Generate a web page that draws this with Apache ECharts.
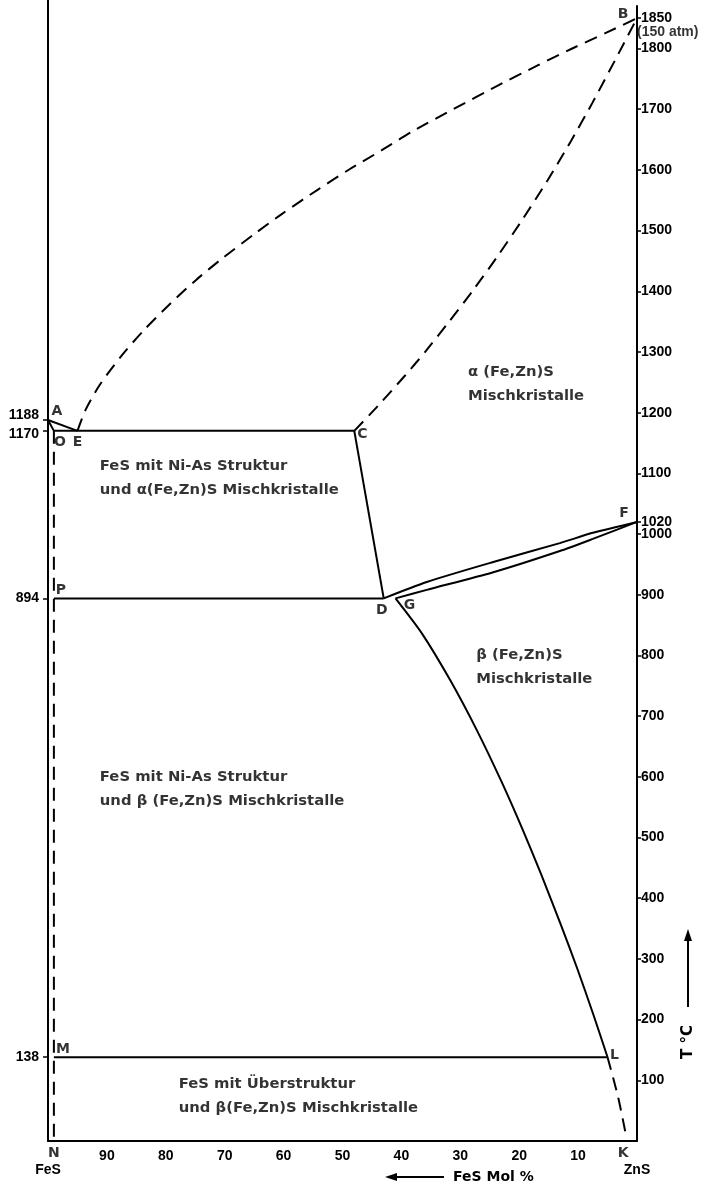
<!DOCTYPE html>
<html><head><meta charset="utf-8">
<script src="https://cdn.jsdelivr.net/npm/echarts@6/dist/echarts.min.js"></script>
<style>html,body{margin:0;padding:0;background:#fff}#c{width:702px;height:1187px}</style>
</head><body><div id="c"></div>
<script>
// ---- data (x = FeS Mol %, y = T °C) ----
const solidusAO   = [[100,1188],[99,1170]];
const liquidusAE  = [[100,1188],[95,1170]];
const eutecticOC  = [[99,1170],[48,1170]];
const boundaryCD  = [[48,1170],[43,894]];
const eutectoidPD = [[99,894],[43,894]];
const upperDF     = [[43,894],[35.7,921],[24.4,954],[13.1,985],[7.5,1002],[0,1020]];
const lowerGF     = [[41,894],[35.7,908],[24.4,937],[13.1,972],[7.5,992],[0,1020]];
const solvusGL    = [[41,894],[36.5,836],[31.7,759],[27.2,677],[23,592],[19.5,515],[16.3,440],[13,358],[10.1,283],[7.4,208],[5,138]];
const lineML      = [[99,138],[5,138]];
const dashedEB    = [[95,1170],[93.6,1205],[91.2,1246],[87.5,1294],[83.8,1335],[79.1,1381],[74.7,1420],[70.3,1455],[65,1494],[60.2,1528],[54.1,1568],[48.8,1601],[43.4,1632],[38,1664],[31.2,1700],[23.8,1738],[16.7,1773],[11,1800],[5.2,1826],[0,1850]];
const dashedCB    = [[48,1170],[44,1211],[39.3,1262],[35.9,1301],[31.9,1350],[27.8,1402],[23.8,1456],[19.8,1513],[15.3,1581],[11.3,1646],[7.6,1710],[3.6,1783],[0,1850]];
const dashedON    = [[99,1170],[99,0]];
const dashedLK    = [[5,138],[3.2,72],[1.8,6]];

const pointNames  = ['A','O','E','C','D','G','F','B','P','M','L','N','K'];
const pointCoords = [[100,1188],[99,1170],[95,1170],[48,1170],[43,894],[41,894],[0,1020],[0,1850],[99,894],[99,138],[5,138],[99,0],[2,0]];

const rightTickValues = [100,200,300,400,500,600,700,800,900,1000,1020,1100,1200,1300,1400,1500,1600,1700,1800,1850];
const leftTickValues  = [138,894,1170];
const leftTopTick     = [1188];
const xTickLabels     = {100:'\nFeS', 0:'\nZnS'};

const regionTexts  = ['α (Fe,Zn)S\nMischkristalle',
                      'FeS mit Ni-As Struktur\nund α(Fe,Zn)S Mischkristalle',
                      'β (Fe,Zn)S\nMischkristalle',
                      'FeS mit Ni-As Struktur\nund β (Fe,Zn)S Mischkristalle',
                      'FeS mit Überstruktur\nund β(Fe,Zn)S Mischkristalle'];
const regionCoords = [[28.7,1247],[91.2,1092],[27.3,781],[91.2,580],[77.8,74]];
const pressureNote = '(150 atm)';
const pressureCoord = [0,1827];
const xAxisTitle = 'FeS Mol %';
const yAxisTitle = 'T °C';

// ---- styles ----
const NUMFONT = '"Liberation Sans Narrow", "Liberation Sans", sans-serif';
const TXTFONT = 'DejaVu Sans';
const labelOffsets = {A:[9,-9],O:[6,11],E:[0,11],C:[8,3],D:[-2,12],G:[14,7],F:[-13,-9],B:[-14,-4],P:[7,-8],M:[9,-8],L:[7,-2],N:[0,12],K:[-2,12]};

function lineSeries(data, dashed, smooth){
  return {type:'line', data:data, showSymbol:false, symbol:'none',
    smooth: smooth||false,
    lineStyle:{color:'#000', width:2, type: dashed ? [13,8] : 'solid'}, silent:true, z:3};
}

const numLabel = {color:'#000', fontFamily:NUMFONT, fontWeight:'bold', fontSize:14};

function leftAxis(values, showLine, extra){
  return {type:'value', position:'left', min:0, max:1870,
    axisLine:{show:showLine, onZero:false, lineStyle:{color:'#000', width:2}},
    axisTick:{show:true, length:5, lineStyle:{color:'#000', width:1.5}, customValues:values},
    axisLabel:Object.assign({}, numLabel, {margin:9, interval:0, hideOverlap:false, customValues:values}, extra),
    splitLine:{show:false}};
}

const chart = echarts.init(document.getElementById('c'), null, {renderer:'canvas'});
const option = {
  backgroundColor:'#fff',
  animation:false,
  grid:{left:48, right:65, top:6, bottom:46},
  xAxis:{type:'value', min:0, max:100, interval:10, inverse:true,
    axisLine:{lineStyle:{color:'#000', width:2}},
    axisTick:{show:false}, splitLine:{show:false},
    axisLabel:Object.assign({}, numLabel, {margin:8, lineHeight:14, hideOverlap:false,
      formatter:v => (v in xTickLabels) ? xTickLabels[v] : String(v)})},
  yAxis:[
    {type:'value', position:'right', min:0, max:1870,
      axisLine:{show:true, lineStyle:{color:'#000', width:2}},
      axisTick:{show:true, length:4, lineStyle:{color:'#000', width:1.5}, customValues:rightTickValues},
      axisLabel:Object.assign({}, numLabel, {margin:4, interval:0, hideOverlap:false, customValues:rightTickValues, formatter:v=>String(v)}),
      splitLine:{show:false}},
    leftAxis(leftTickValues, true, {formatter:v => v===1170 ? '{lo|1170}' : String(v),
      rich:{lo:{padding:[7,0,0,0], color:'#000', fontFamily:NUMFONT, fontWeight:'bold', fontSize:14}}}),
    leftAxis(leftTopTick, false, {formatter:v => '{hi|' + v + '}',
      rich:{hi:{padding:[0,0,9,0], color:'#000', fontFamily:NUMFONT, fontWeight:'bold', fontSize:14}}})
  ],
  series:[
    lineSeries(solidusAO), lineSeries(liquidusAE), lineSeries(eutecticOC), lineSeries(boundaryCD),
    lineSeries(eutectoidPD), lineSeries(upperDF,false,0.25), lineSeries(lowerGF,false,0.25),
    lineSeries(solvusGL,false,0.25), lineSeries(lineML),
    lineSeries(dashedEB,true,0.25), lineSeries(dashedCB,true,0.25), lineSeries(dashedON,true), lineSeries(dashedLK,true,0.25),
    {type:'scatter', symbolSize:0, silent:true, z:5,
      data:pointNames.map((n,i)=>({name:n, value:pointCoords[i],
        label:{show:true, position:'inside', offset:labelOffsets[n], formatter:n,
          color:'#000', fontFamily:TXTFONT, fontWeight:'bold', fontSize:14}}))},
    {type:'scatter', symbolSize:0, silent:true, z:5,
      data:regionTexts.map((t,i)=>({value:regionCoords[i],
        label:{show:true, position:'right', distance:0, formatter:t, align:'left', verticalAlign:'middle',
          lineHeight:24, color:'#000', fontFamily:TXTFONT, fontWeight:'bold', fontSize:14.8}}))},
    {type:'scatter', symbolSize:0, silent:true, z:5,
      data:[{value:pressureCoord, label:{show:true, position:'right', distance:0, formatter:pressureNote,
        color:'#000', fontFamily:NUMFONT, fontWeight:'bold', fontSize:14}}]}
  ],
  graphic:[
    {type:'line', shape:{x1:48, y1:0, x2:48, y2:8}, style:{stroke:'#000', lineWidth:2}},
    {type:'line', shape:{x1:444, y1:1177, x2:394, y2:1177}, style:{stroke:'#000', lineWidth:2}},
    {type:'polygon', shape:{points:[[385,1177],[397,1173],[397,1181]]}, style:{fill:'#000'}},
    {type:'text', x:453, y:1177, style:{text:xAxisTitle, fill:'#000', font:'bold 14px "DejaVu Sans"', verticalAlign:'middle', align:'left'}},
    {type:'line', shape:{x1:688, y1:1007, x2:688, y2:938}, style:{stroke:'#000', lineWidth:2}},
    {type:'polygon', shape:{points:[[688,929],[684,941],[692,941]]}, style:{fill:'#000'}},
    {type:'text', x:688, y:1042, rotation:Math.PI/2, style:{text:yAxisTitle, fill:'#000', font:'bold 15px "DejaVu Sans"', verticalAlign:'middle', align:'center'}}
  ]
};
chart.setOption(option);
</script>
</body></html>
